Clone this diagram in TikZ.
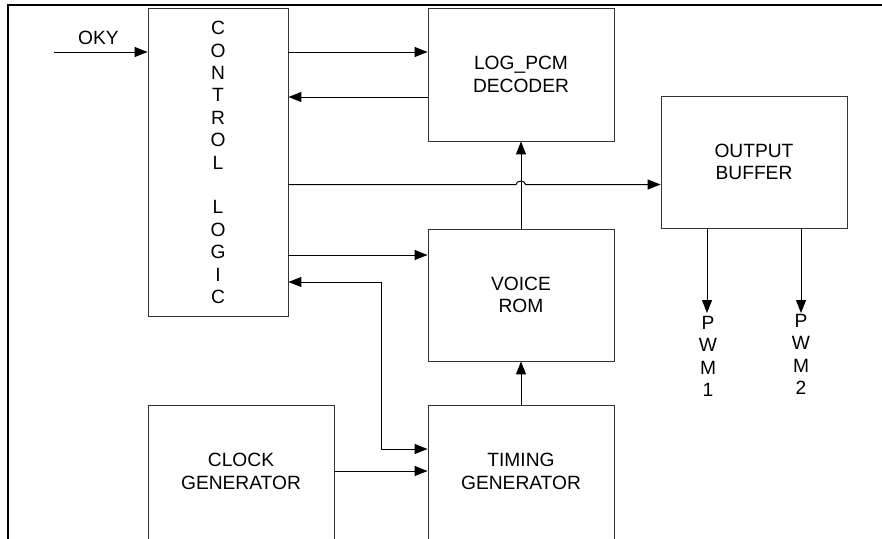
\documentclass[tikz,border=0pt]{standalone}
\usepackage{fontspec}
\setmainfont{Liberation Sans}
\usetikzlibrary{arrows.meta}
\begin{document}
\begin{tikzpicture}[x=1pt,y=-1pt,
  txt/.style={font=\fontsize{19.2}{22.4}\selectfont, align=center},
  box/.style={txt, draw=black!80, line width=0.9pt, rectangle, inner sep=0pt},
  lbl/.style={txt, inner sep=0pt},
  arr/.style={-{Triangle[length=13pt,width=10pt]}, line width=1pt, draw=black},
  biarr/.style={{Triangle[length=13pt,width=10pt]}-{Triangle[length=13pt,width=10pt]}, line width=1pt, draw=black},
  frameline/.style={line width=2.5pt, draw=black}
]
\useasboundingbox (0,0) rectangle (882,538);
\clip (0,0) rectangle (882,538);

% frame
\draw[frameline] (8,545) -- (8,5) -- (890,5);

% boxes
\node[box, minimum width=140, minimum height=308] (ctrl) at (218,162.5)
  {C\\O\\N\\T\\R\\O\\L\\\mbox{}\\L\\O\\G\\I\\C};
\node[box, minimum width=186, minimum height=133] (logpcm) at (521,74.5) {LOG\_PCM\\DECODER};
\node[box, minimum width=186, minimum height=132] (outbuf) at (754,162) {OUTPUT\\BUFFER};
\node[box, minimum width=186, minimum height=132] (voice) at (521,295) {VOICE\\ROM};
\node[box, minimum width=186, minimum height=137,
  label={[lbl, yshift=2pt]center:CLOCK\\GENERATOR}] (clock) at (241,473.5) {};
\node[box, minimum width=186, minimum height=137,
  label={[lbl, yshift=2pt]center:TIMING\\GENERATOR}] (timing) at (521,473.5) {};

% labels
\node[lbl] (oky) at (98.5,38) {OKY};
\coordinate (okyin) at (54,52);
\node[lbl, anchor=north, inner ysep=3pt] (pwm1) at (708,313) {P\\W\\M\\1};
\node[lbl, anchor=north, inner ysep=1pt] (pwm2) at (801,313) {P\\W\\M\\2};

% connectors
\draw[arr] (okyin) -- (okyin -| ctrl.west);
\draw[arr] (ctrl.east |- okyin) -- (logpcm.west |- okyin);
\draw[arr] (logpcm.west |- 0,97) -- (ctrl.east |- 0,97);
\draw[arr] (ctrl.east |- 0,184.5) -- (516,184.5)
  .. controls (516,180) and (525.5,180) .. (525.5,184.5)
  -- (outbuf.west |- 0,184.5);
\draw[arr] (voice.north) -- (logpcm.south);
\draw[arr] (ctrl.east |- 0,255) -- (voice.west |- 0,255);
\draw[biarr] (ctrl.east |- 0,282) -| (381,449) -- (timing.west |- 0,449);
\draw[arr] (clock.east |- 0,471) -- (timing.west |- 0,471);
\draw[arr] (timing.north) -- (voice.south);
\draw[arr] (outbuf.south -| 707,0) -- (pwm1.north -| 707,0);
\draw[arr] (outbuf.south -| pwm2.north) -- (pwm2.north);
\end{tikzpicture}
\end{document}
